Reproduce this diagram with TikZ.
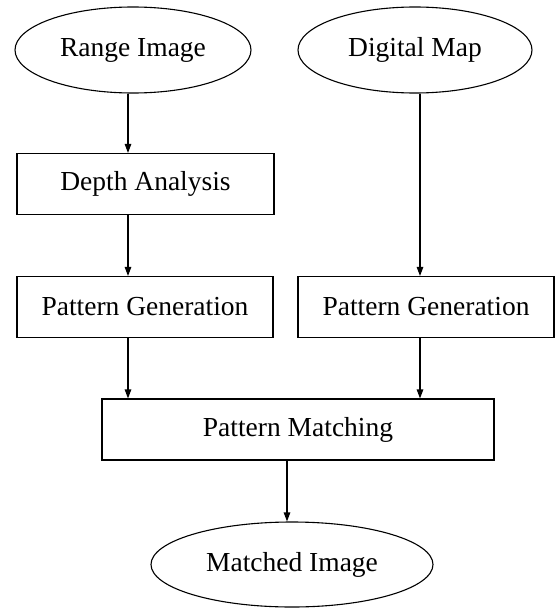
\documentclass[tikz,border=0pt]{standalone}
\usepackage{fontspec}
\setmainfont{Liberation Serif}
\usepackage{tikz}
\usetikzlibrary{shapes.geometric, arrows.meta}

\begin{document}
\begin{tikzpicture}[x=1pt, y=-1pt, line width=1.1pt,
		every node/.style={font=\fontsize{27.5}{33}\selectfont, inner sep=0pt},
		oval/.style={draw, ellipse, minimum width=#1, minimum height=86pt},
		stagebox/.style={draw, rectangle, minimum width=#1, minimum height=61pt},
		arr/.style={-{Triangle[length=9pt, width=6.5pt]}}]
			\useasboundingbox (0,0) rectangle (556,610);
			\node[oval=236pt] (range) at (133,50) {Range Image};
			\node[oval=234pt] (map) at (415,50) {Digital Map};
			\node[stagebox=257pt] (depth) at (145.5,184) {Depth Analysis};
			\node[stagebox=256pt] (genl) at (145,307) {Pattern Generation};
			\node[stagebox=256pt] (genr) at (426,307) {Pattern Generation};
			\node[stagebox=392pt] (match) at (298,429.5) {Pattern Matching};
			\node[oval=282pt, minimum height=85pt] (result) at (292,564.5) {Matched Image};
			\coordinate (lx) at (128,0);
			\coordinate (rx) at (420,0);
			\coordinate (mx) at (287,0);
			\foreach \a/\b/\c in {range/depth/lx, depth/genl/lx, genl/match/lx, map/genr/rx, genr/match/rx, match/result/mx} {\draw[arr] (\a.south -| \c) -- (\b.north -| \c);};
		\end{tikzpicture}
\end{document}
